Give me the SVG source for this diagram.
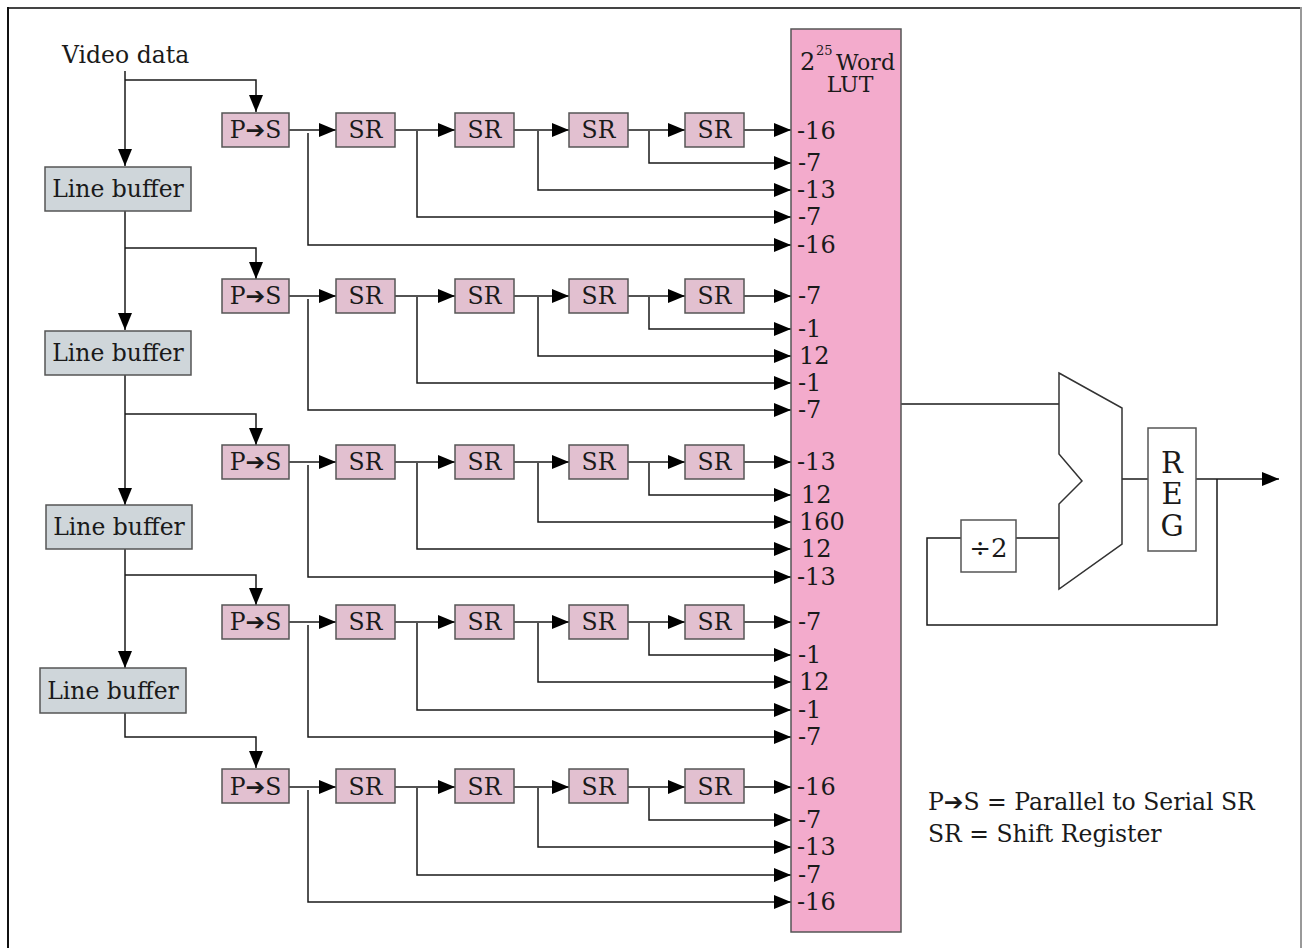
<svg xmlns="http://www.w3.org/2000/svg" width="1302" height="948" viewBox="0 0 1302 948">
<defs>
<marker id="ah" markerUnits="userSpaceOnUse" markerWidth="18" markerHeight="16" refX="17" refY="8" orient="auto">
<path d="M0,1 L17,8 L0,15 Z" fill="#000"/>
</marker>
<style>
.t{font-family:"DejaVu Serif","Liberation Serif",serif;fill:#1a1a1a}
.b{font-size:23.5px}
.lbl{font-size:24px}
.ps{fill:#e2c0d0;stroke:#555;stroke-width:1.5}
.lb{fill:#cfd6da;stroke:#555;stroke-width:1.5}
.wb{fill:#fff;stroke:#555;stroke-width:1.5}
.c{fill:none;stroke:#1a1a1a;stroke-width:1.5}
.a{marker-end:url(#ah)}
.arr{font-family:"DejaVu Sans",sans-serif;font-weight:bold}
</style>
</defs>
<rect width="1302" height="948" fill="#fff"/>
<g id="frame">
<line x1="7" y1="8" x2="1301" y2="8" stroke="#444" stroke-width="2"/>
<line x1="8" y1="7" x2="8" y2="948" stroke="#111" stroke-width="2"/>
<line x1="1301" y1="7" x2="1301" y2="948" stroke="#999" stroke-width="2"/>
</g>

<text class="t b" x="62" y="63">Video data</text>

<g id="connectors">
<path class="c a" d="M125,71 V166"/>
<path class="c a" d="M125,80 H256 V112"/>
<path class="c a" d="M125,211 V330"/>
<path class="c a" d="M125,248 H256 V279"/>
<path class="c a" d="M125,375 V505"/>
<path class="c a" d="M125,414 H256 V445"/>
<path class="c a" d="M125,549 V668"/>
<path class="c a" d="M125,575 H256 V605"/>
<path class="c a" d="M125,713 V737 H256 V768"/>

<path class="c a" d="M289,130 H336"/><path class="c a" d="M395,130 H455"/><path class="c a" d="M514,130 H569"/><path class="c a" d="M628,130 H685"/><path class="c a" d="M744,130 H791"/>
<path class="c a" d="M649,131 V163 H791"/><path class="c a" d="M538,131 V190 H791"/><path class="c a" d="M417,131 V217 H791"/><path class="c a" d="M308,133 V245 H791"/>

<path class="c a" d="M289,296 H336"/><path class="c a" d="M395,296 H455"/><path class="c a" d="M514,296 H569"/><path class="c a" d="M628,296 H685"/><path class="c a" d="M744,296 H791"/>
<path class="c a" d="M649,297 V329 H791"/><path class="c a" d="M538,297 V356 H791"/><path class="c a" d="M417,297 V383 H791"/><path class="c a" d="M308,299 V410 H791"/>

<path class="c a" d="M289,462 H336"/><path class="c a" d="M395,462 H455"/><path class="c a" d="M514,462 H569"/><path class="c a" d="M628,462 H685"/><path class="c a" d="M744,462 H791"/>
<path class="c a" d="M649,463 V495 H791"/><path class="c a" d="M538,463 V522 H791"/><path class="c a" d="M417,463 V549 H791"/><path class="c a" d="M308,465 V577 H791"/>

<path class="c a" d="M289,622 H336"/><path class="c a" d="M395,622 H455"/><path class="c a" d="M514,622 H569"/><path class="c a" d="M628,622 H685"/><path class="c a" d="M744,622 H791"/>
<path class="c a" d="M649,623 V655 H791"/><path class="c a" d="M538,623 V682 H791"/><path class="c a" d="M417,623 V710 H791"/><path class="c a" d="M308,625 V737 H791"/>

<path class="c a" d="M289,787 H336"/><path class="c a" d="M395,787 H455"/><path class="c a" d="M514,787 H569"/><path class="c a" d="M628,787 H685"/><path class="c a" d="M744,787 H791"/>
<path class="c a" d="M649,788 V820 H791"/><path class="c a" d="M538,788 V847 H791"/><path class="c a" d="M417,788 V875 H791"/><path class="c a" d="M308,790 V902 H791"/>

<path class="c" d="M901,404 H1059"/>
<path class="c" d="M1016,538 H1059"/>
<path class="c" d="M1122,479 H1148"/>
<path class="c a" d="M1196,479 H1279"/>
<path class="c" d="M1217,479 V625 H927 V538 H961"/>
</g>

<g id="lb1"><rect class="lb" x="45" y="167" width="146" height="44"/><text class="t b" x="118" y="197" text-anchor="middle">Line buffer</text></g>
<g id="lb2"><rect class="lb" x="45" y="331" width="146" height="44"/><text class="t b" x="118" y="361" text-anchor="middle">Line buffer</text></g>
<g id="lb3"><rect class="lb" x="46" y="505" width="146" height="44"/><text class="t b" x="119" y="535" text-anchor="middle">Line buffer</text></g>
<g id="lb4"><rect class="lb" x="40" y="668" width="146" height="45"/><text class="t b" x="113" y="699" text-anchor="middle">Line buffer</text></g>

<g id="ps1"><rect class="ps" x="222" y="113" width="67" height="34"/><text class="t b" x="255.5" y="138" text-anchor="middle">P<tspan class="arr">➔</tspan>S</text></g>
<g id="sr1a"><rect class="ps" x="336" y="113" width="59" height="34"/><text class="t b" x="365.5" y="138" text-anchor="middle">SR</text></g>
<g id="sr1b"><rect class="ps" x="455" y="113" width="59" height="34"/><text class="t b" x="484.5" y="138" text-anchor="middle">SR</text></g>
<g id="sr1c"><rect class="ps" x="569" y="113" width="59" height="34"/><text class="t b" x="598.5" y="138" text-anchor="middle">SR</text></g>
<g id="sr1d"><rect class="ps" x="685" y="113" width="59" height="34"/><text class="t b" x="714.5" y="138" text-anchor="middle">SR</text></g>

<g id="ps2"><rect class="ps" x="222" y="279" width="67" height="34"/><text class="t b" x="255.5" y="304" text-anchor="middle">P<tspan class="arr">➔</tspan>S</text></g>
<g id="sr2a"><rect class="ps" x="336" y="279" width="59" height="34"/><text class="t b" x="365.5" y="304" text-anchor="middle">SR</text></g>
<g id="sr2b"><rect class="ps" x="455" y="279" width="59" height="34"/><text class="t b" x="484.5" y="304" text-anchor="middle">SR</text></g>
<g id="sr2c"><rect class="ps" x="569" y="279" width="59" height="34"/><text class="t b" x="598.5" y="304" text-anchor="middle">SR</text></g>
<g id="sr2d"><rect class="ps" x="685" y="279" width="59" height="34"/><text class="t b" x="714.5" y="304" text-anchor="middle">SR</text></g>

<g id="ps3"><rect class="ps" x="222" y="445" width="67" height="34"/><text class="t b" x="255.5" y="470" text-anchor="middle">P<tspan class="arr">➔</tspan>S</text></g>
<g id="sr3a"><rect class="ps" x="336" y="445" width="59" height="34"/><text class="t b" x="365.5" y="470" text-anchor="middle">SR</text></g>
<g id="sr3b"><rect class="ps" x="455" y="445" width="59" height="34"/><text class="t b" x="484.5" y="470" text-anchor="middle">SR</text></g>
<g id="sr3c"><rect class="ps" x="569" y="445" width="59" height="34"/><text class="t b" x="598.5" y="470" text-anchor="middle">SR</text></g>
<g id="sr3d"><rect class="ps" x="685" y="445" width="59" height="34"/><text class="t b" x="714.5" y="470" text-anchor="middle">SR</text></g>

<g id="ps4"><rect class="ps" x="222" y="605" width="67" height="34"/><text class="t b" x="255.5" y="630" text-anchor="middle">P<tspan class="arr">➔</tspan>S</text></g>
<g id="sr4a"><rect class="ps" x="336" y="605" width="59" height="34"/><text class="t b" x="365.5" y="630" text-anchor="middle">SR</text></g>
<g id="sr4b"><rect class="ps" x="455" y="605" width="59" height="34"/><text class="t b" x="484.5" y="630" text-anchor="middle">SR</text></g>
<g id="sr4c"><rect class="ps" x="569" y="605" width="59" height="34"/><text class="t b" x="598.5" y="630" text-anchor="middle">SR</text></g>
<g id="sr4d"><rect class="ps" x="685" y="605" width="59" height="34"/><text class="t b" x="714.5" y="630" text-anchor="middle">SR</text></g>

<g id="ps5"><rect class="ps" x="222" y="769" width="67" height="34"/><text class="t b" x="255.5" y="795" text-anchor="middle">P<tspan class="arr">➔</tspan>S</text></g>
<g id="sr5a"><rect class="ps" x="336" y="769" width="59" height="34"/><text class="t b" x="365.5" y="795" text-anchor="middle">SR</text></g>
<g id="sr5b"><rect class="ps" x="455" y="769" width="59" height="34"/><text class="t b" x="484.5" y="795" text-anchor="middle">SR</text></g>
<g id="sr5c"><rect class="ps" x="569" y="769" width="59" height="34"/><text class="t b" x="598.5" y="795" text-anchor="middle">SR</text></g>
<g id="sr5d"><rect class="ps" x="685" y="769" width="59" height="34"/><text class="t b" x="714.5" y="795" text-anchor="middle">SR</text></g>

<g id="lut">
<rect x="791" y="29" width="110" height="903" fill="#f3abcc" stroke="#555" stroke-width="1.5"/>
<text class="t" x="800" y="70" font-size="24">2</text>
<text class="t" x="816" y="55" font-size="13">25</text>
<text class="t" x="836" y="70" font-size="22">Word</text>
<text class="t" x="850" y="92" font-size="22" text-anchor="middle">LUT</text>
<g class="t lbl">
<text x="797" y="139">-16</text><text x="798" y="171">-7</text><text x="797" y="198">-13</text><text x="798" y="225">-7</text><text x="797" y="253">-16</text>
<text x="798" y="304">-7</text><text x="798" y="337">-1</text><text x="799" y="364">12</text><text x="798" y="391">-1</text><text x="798" y="418">-7</text>
<text x="797" y="470">-13</text><text x="801" y="503">12</text><text x="799" y="530">160</text><text x="801" y="557">12</text><text x="797" y="585">-13</text>
<text x="798" y="630">-7</text><text x="798" y="663">-1</text><text x="799" y="690">12</text><text x="798" y="718">-1</text><text x="798" y="745">-7</text>
<text x="797" y="795">-16</text><text x="798" y="828">-7</text><text x="797" y="855">-13</text><text x="798" y="883">-7</text><text x="797" y="910">-16</text>
</g>
</g>

<g id="mux"><path d="M1059,373 L1122,408 V544 L1059,589 V504 L1082,481 L1059,454 Z" fill="#fff" stroke="#333" stroke-width="1.5"/></g>
<g id="div2"><rect class="wb" x="961" y="520" width="55" height="52"/><text class="t" x="988.5" y="557" font-size="26" text-anchor="middle">÷2</text></g>
<g id="reg"><rect class="wb" x="1148" y="428" width="48" height="123"/>
<text class="t" x="1172" y="473" font-size="29" text-anchor="middle">R</text>
<text class="t" x="1172" y="504" font-size="29" text-anchor="middle">E</text>
<text class="t" x="1172" y="536" font-size="29" text-anchor="middle">G</text></g>

<g id="legend" class="t b">
<text x="928" y="810">P<tspan class="arr">➔</tspan>S = Parallel to Serial SR</text>
<text x="928" y="842">SR = Shift Register</text>
</g>
</svg>
